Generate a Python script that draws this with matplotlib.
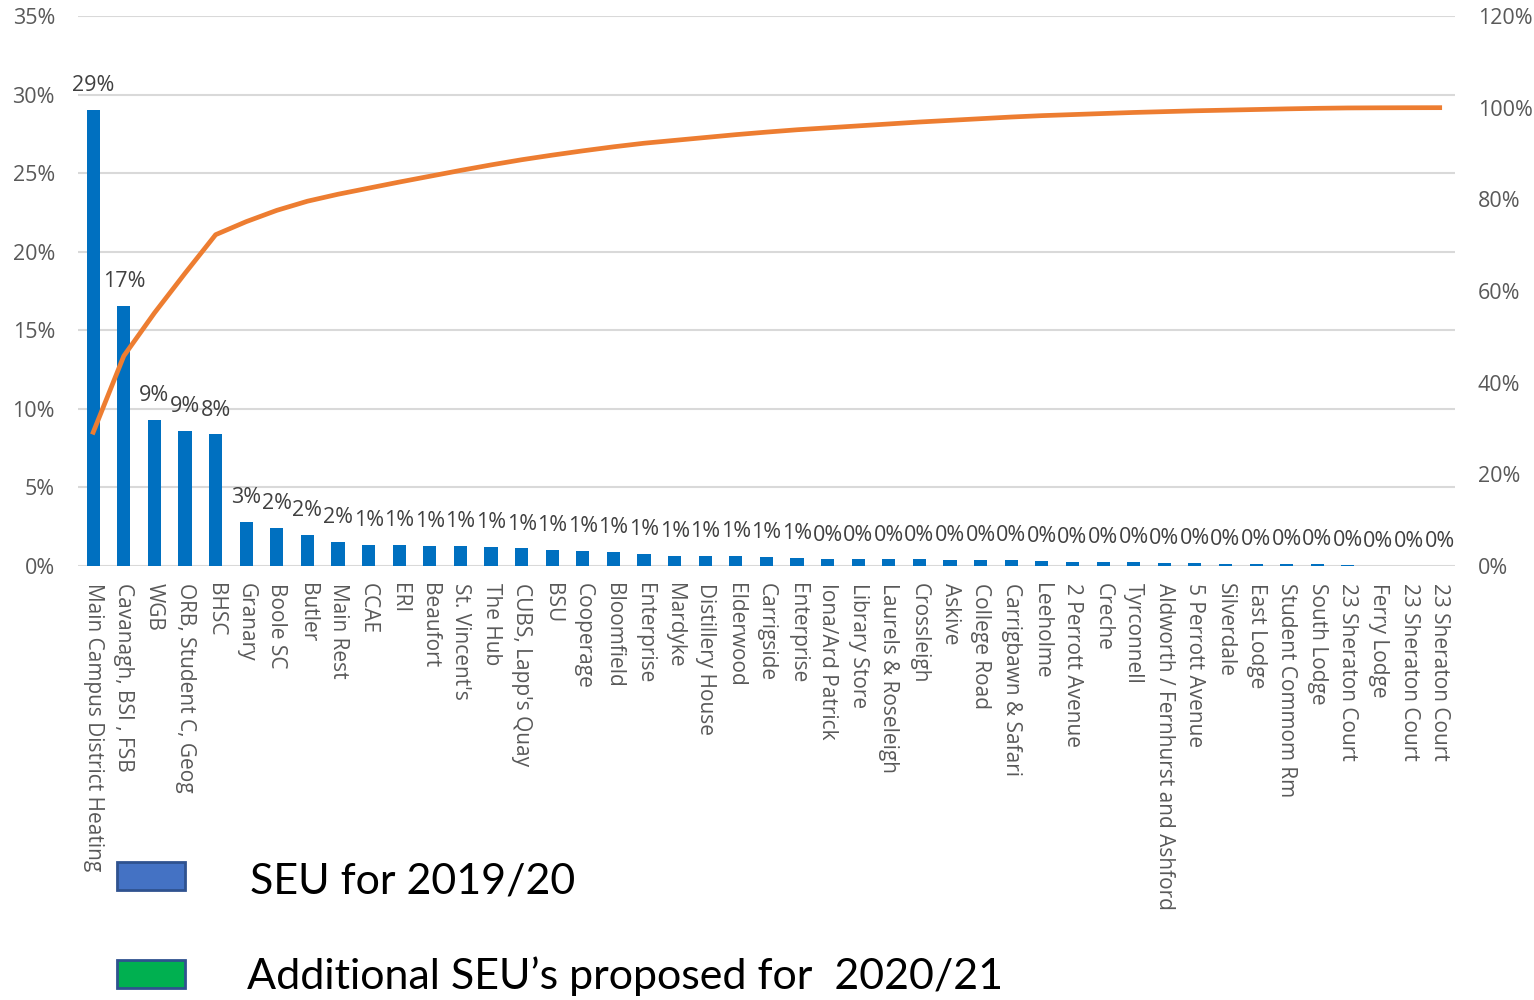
import numpy as np
import matplotlib.pyplot as plt
from matplotlib.patches import Rectangle

plt.rcParams['font.family'] = ['Open Sans', 'DejaVu Sans']

# Significant energy users (share of total consumption, %)
sites = ['Main Campus District Heating', 'Cavanagh, BSI , FSB', 'WGB',
         'ORB, Student C, Geog', 'BHSC', 'Granary', 'Boole SC', 'Butler',
         'Main Rest', 'CCAE', 'ERI', 'Beaufort', "St. Vincent's", 'The Hub',
         "CUBS, Lapp's Quay", 'BSU', 'Cooperage', 'Bloomfield', 'Enterprise',
         'Mardyke', 'Distillery House', 'Elderwood', 'Carrigside', 'Enterprise',
         'Iona/Ard Patrick', 'Library Store', 'Laurels & Roseleigh', 'Crossleigh',
         'Askive', 'College Road', 'Carrigbawn & Safari', 'Leeholme',
         '2 Perrott Avenue', 'Creche', 'Tyrconnell',
         'Aldworth / Fernhurst and Ashford', '5 Perrott Avenue', 'Silverdale',
         'East Lodge', 'Student Commom Rm', 'South Lodge', '23 Sheraton Court',
         'Ferry Lodge', '23 Sheraton Court', '23 Sheraton Court']
share = [29.0, 16.55, 9.31, 8.60, 8.37, 2.83, 2.45, 1.98, 1.51, 1.32,
         1.32, 1.26, 1.26, 1.20, 1.12, 1.00, 0.93, 0.87, 0.78, 0.62,
         0.62, 0.62, 0.55, 0.51, 0.42, 0.42, 0.42, 0.42, 0.36, 0.36,
         0.36, 0.30, 0.23, 0.23, 0.23, 0.18, 0.18, 0.14, 0.14, 0.14,
         0.12, 0.08, 0.03, 0.02, 0.01]
legend_labels = ['SEU for 2019/20', 'Additional SEU\u2019s proposed for  2020/21']

share = np.array(share)
cumulative = np.cumsum(share) / share.sum() * 100
x = np.arange(len(sites))

fig = plt.figure(figsize=(15.34, 10), dpi=100)
ax = fig.add_axes([0.0508, 0.434, 0.8977, 0.55])
ax2 = ax.twinx()

ax.bar(x, share, width=0.43, color='#0070C0', zorder=3)
for xi, v in zip(x, share):
    ax.annotate('%d%%' % round(v), (xi, v), xytext=(0, 10), textcoords='offset points',
                ha='center', va='bottom', fontsize=15.5, color='#404040')

ax.set_xlim(-0.5, len(sites) - 0.5)
ax.set_ylim(0, 35)
ax.set_yticks(np.arange(0, 36, 5))
ax.set_yticklabels(['%d%%' % t for t in range(0, 36, 5)])
ax.set_xticks(x)
ax.set_xticklabels(sites, rotation=-90, ha='center', va='top')
ax.tick_params(axis='x', length=0, pad=12, labelsize=15, labelcolor='#595959')
ax.tick_params(axis='y', length=0, pad=16.5, labelsize=15.5, labelcolor='#595959')
ax.yaxis.grid(True, color='#D9D9D9', linewidth=1.5, zorder=0)
ax.set_axisbelow(True)
for s in ax.spines.values():
    s.set_visible(False)

ax2.plot(x, cumulative, color='#ED7D31', linewidth=3.4, zorder=4)
ax2.set_ylim(0, 120)
ax2.set_yticks(np.arange(0, 121, 20))
ax2.set_yticklabels(['%d%%' % t for t in range(0, 121, 20)])
ax2.tick_params(axis='y', length=0, pad=16.5, labelsize=15.5, labelcolor='#595959')
for s in ax2.spines.values():
    s.set_visible(False)

# legend drawn as boxes + text at the bottom
fig.patches.append(Rectangle((117 / 1534, 1 - 890 / 1000), 68 / 1534, 28 / 1000,
                             transform=fig.transFigure, facecolor='#4472C4',
                             edgecolor='#2F528F', linewidth=2))
fig.patches.append(Rectangle((117 / 1534, 1 - 988 / 1000), 68 / 1534, 28 / 1000,
                             transform=fig.transFigure, facecolor='#00B050',
                             edgecolor='#2F528F', linewidth=2))
fig.text(250 / 1534, 1 - 881 / 1000, legend_labels[0], fontsize=31, va='center',
         family=['Lato', 'DejaVu Sans'], color='black')
fig.text(247 / 1534, 1 - 976 / 1000, legend_labels[1], fontsize=31, va='center',
         family=['Lato', 'DejaVu Sans'], color='black')

fig.savefig('out.png', dpi=100)
